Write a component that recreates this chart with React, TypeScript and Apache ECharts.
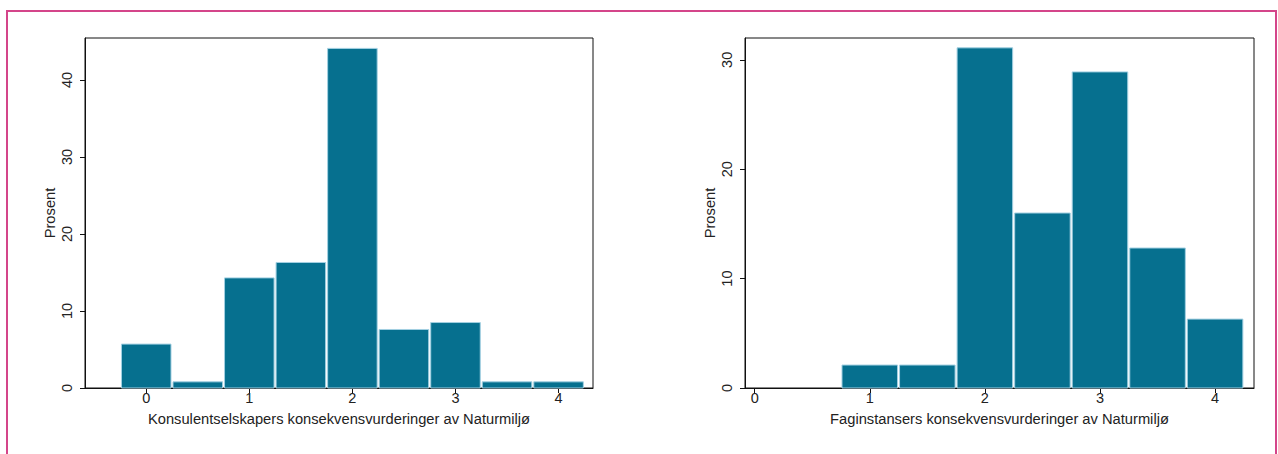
import React, { useEffect, useRef } from "react";
import * as echarts from "echarts";

const leftBins = [0, 0.5, 1, 1.5, 2, 2.5, 3, 3.5, 4];
const leftValues = [5.7, 0.8, 14.3, 16.3, 44.1, 7.6, 8.5, 0.8, 0.8];
const rightBins = [0, 0.5, 1, 1.5, 2, 2.5, 3, 3.5, 4];
const rightValues = [0, 0, 2.1, 2.1, 31.1, 16.0, 28.9, 12.8, 6.3];
const xTicks = [0, 1, 2, 3, 4];
const leftYTicks = [0, 10, 20, 30, 40];
const rightYTicks = [0, 10, 20, 30];
const leftXTitle = "Konsulentselskapers konsekvensvurderinger av Naturmiljø";
const rightXTitle = "Faginstansers konsekvensvurderinger av Naturmiljø";
const yTitle = "Prosent";

const FONT = "'Liberation Sans', Arial, Helvetica, sans-serif";
const TEXT = "#222";
const AXIS = "#111";
const FS = 14.5;
const NFS = 14.7;

function renderBar(params: any, api: any) {
  const x = api.value(0);
  const y = api.value(1);
  if (!y) return null;
  const p0 = api.coord([x - 0.25, y]);
  const p1 = api.coord([x + 0.25, 0]);
  return {
    type: "rect",
    shape: { x: p0[0] + 1, y: p0[1], width: p1[0] - p0[0] - 2, height: p1[1] - p0[1] },
    style: { fill: "#06708f", stroke: "#a3d0e2", lineWidth: 1 },
  };
}

function xAxis(gridIndex: number, min: number, max: number, name: string) {
  return {
    type: "value",
    gridIndex,
    min,
    max,
    name,
    nameLocation: "middle",
    nameGap: 23,
    nameTextStyle: { color: TEXT, fontFamily: FONT, fontSize: NFS },
    axisLine: { show: true, onZero: false, lineStyle: { color: AXIS, width: 1 } },
    axisTick: { show: true, length: 5, customValues: xTicks, lineStyle: { color: AXIS } },
    axisLabel: { customValues: xTicks, color: TEXT, fontFamily: FONT, fontSize: FS, margin: 2 },
    splitLine: { show: false },
  };
}

function yAxis(gridIndex: number, max: number, ticks: number[]) {
  return {
    type: "value",
    gridIndex,
    min: 0,
    max,
    name: yTitle,
    nameLocation: "middle",
    nameGap: 28,
    nameTextStyle: { color: TEXT, fontFamily: FONT, fontSize: NFS },
    axisLine: { show: true, onZero: false, lineStyle: { color: AXIS, width: 1 } },
    axisTick: { show: true, length: 5, customValues: ticks, lineStyle: { color: AXIS } },
    axisLabel: { customValues: ticks, rotate: 90, color: TEXT, fontFamily: FONT, fontSize: FS, margin: 11 },
    splitLine: { show: false },
  };
}

export default function App() {
  const ref = useRef<HTMLDivElement>(null);
  useEffect(() => {
    if (!ref.current) return;
    const chart = echarts.init(ref.current, undefined, { renderer: "svg" });
    chart.setOption({
      animation: false,
      backgroundColor: "#fff",
      graphic: [
        {
          type: "rect",
          shape: { x: 7, y: 11, width: 1269, height: 500 },
          style: { fill: "none", stroke: "#d4458a", lineWidth: 2 },
          silent: true,
        },
      ],
      grid: [
        { left: 85, top: 38, width: 508, height: 350, show: true, borderColor: AXIS, borderWidth: 1, backgroundColor: "transparent" },
        { left: 745, top: 38, width: 509, height: 350, show: true, borderColor: AXIS, borderWidth: 1, backgroundColor: "transparent" },
      ],
      xAxis: [xAxis(0, -0.594, 4.334, leftXTitle), xAxis(1, -0.084, 4.338, rightXTitle)],
      yAxis: [yAxis(0, 45.45, leftYTicks), yAxis(1, 32.0, rightYTicks)],
      series: [
        {
          type: "custom",
          xAxisIndex: 0,
          yAxisIndex: 0,
          renderItem: renderBar,
          encode: { x: 0, y: 1 },
          data: leftBins.map((b, i) => [b, leftValues[i]]),
        },
        {
          type: "custom",
          xAxisIndex: 1,
          yAxisIndex: 1,
          renderItem: renderBar,
          encode: { x: 0, y: 1 },
          data: rightBins.map((b, i) => [b, rightValues[i]]),
        },
      ],
    });
    return () => chart.dispose();
  }, []);
  return (
    <div
      ref={ref}
      style={{ position: "absolute", left: 0, top: 0, width: 1278, height: 454 }}
    />
  );
}
